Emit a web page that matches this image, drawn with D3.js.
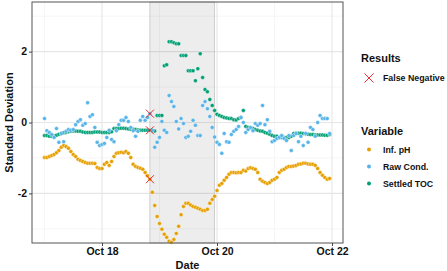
<html>
  <head>
    <meta charset="utf-8" />
    <script src="https://d3js.org/d3.v7.min.js"></script>
    <style>
      body {
        margin: 0;
        background: white;
      }
      text {
        font-family: "Liberation Sans", Arial, sans-serif;
        font-weight: bold;
        fill: #111;
      }
    </style>
  </head>

  <body>
    <svg id="chart" width="447" height="271"></svg>

    <script>
      // hourly readings, first one at Oct 17 00:00
      const startTime = new Date(2019, 9, 17, 0, 0);

      const infPH = [
        -0.99, -0.99, -0.96, -0.93, -0.9, -0.85, -0.79, -0.7, -0.65, -0.68,
        -0.73, -0.82, -0.9, -0.96, -1.04, -1.07, -1.1, -1.13, -1.15, -1.15,
        -1.15, -1.16, -1.27, -1.3, -1.3, -1.18, -1.13, -1.21, -1.1, -0.96,
        -0.87, -0.85, -0.84, -0.85, -0.82, -0.87, -0.99, -1.18, -1.24, -1.27,
        -1.29, -1.32, -1.41, -1.5, -1.6, -1.97, -2.34, -2.65, -2.85, -3.01,
        -3.15, -3.24, -3.35, -3.38, -3.3, -3.13, -2.93, -2.6, -2.37, -2.28,
        -2.28, -2.33, -2.37, -2.39, -2.42, -2.45, -2.48, -2.48, -2.45, -2.28,
        -2.17, -2.08, -1.92, -1.77, -1.72, -1.63, -1.55, -1.46, -1.41, -1.41,
        -1.42, -1.41, -1.41, -1.35, -1.37, -1.3, -1.28, -1.3, -1.32, -1.41,
        -1.6, -1.66, -1.69, -1.72, -1.69, -1.63, -1.6, -1.55, -1.41, -1.35,
        -1.32, -1.27, -1.24, -1.24, -1.23, -1.21, -1.18, -1.17, -1.15, -1.15,
        -1.17, -1.18, -1.18, -1.21, -1.3, -1.41, -1.49, -1.55, -1.6, -1.58
      ];

      const rawCond = [
        0.11, -0.23, -0.28, -0.34, -0.42, -0.17, -0.56, -0.31, -0.54, -0.25,
        -0.2, -0.22, -0.2, -0.06, 0.03, 0.08, -0.08, -0.03, 0.56, 0.17,
        0.22, -0.14, -0.56, -0.65, -0.62, -0.59, -0.42, -0.22, -0.48, -0.54,
        -0.23, -0.06, 0.06, 0.06, 0.14, 0.03, -0.14, -0.23, -0.39, -0.25,
        0.06, 0.17, 0.06, 0.14, 0.25, -0.22, -0.7, -0.56, -0.42, 0.03,
        -0.22, -0.28, 0.76, 0.59, 0.45, 0.03, -0.18, 0.11, -0.03, -0.42,
        -0.39, -0.25, 0.06, -0.08, -0.37, -0.37, 0.48, 0.59, 0.39, 0.17,
        -0.14, -0.41, -0.56, -0.62, -0.87, -0.31, -0.54, -0.56, -0.34, -0.25,
        -0.2, -0.11, 0.14, 0.0, -0.28, -0.2, -0.14, -0.23, -0.03, -0.08,
        -0.03, 0.48, -0.06, 0.08, -0.25, -0.54, -0.51, -0.45, -0.42, -0.37,
        -0.45, -0.51, -0.37, -0.79, -0.37, -0.31, -0.54, -0.39, -0.65, -0.31,
        -0.56, -0.14, -0.2, -0.39, 0.0, 0.2, 0.11, 0.11, 0.11, -0.31
      ];

      const settledTOC = [
        -0.37, -0.37, -0.39, -0.39, -0.38, -0.36, -0.33, -0.31, -0.29, -0.28,
        -0.26, -0.25, -0.24, -0.24, -0.25, -0.25, -0.27, -0.28, -0.28, -0.28,
        -0.28, -0.27, -0.27, -0.27, -0.28, -0.28, -0.28, -0.28, -0.26, -0.17,
        -0.17, -0.17, -0.16, -0.16, -0.17, -0.18, -0.19, -0.19, -0.2, -0.21,
        -0.22, -0.22, -0.22, -0.22, -0.22, -0.23, -0.24, 0.2, 0.2, 0.2,
        1.6, 1.63, 2.28, 2.28, 2.25, 2.22, 2.22, 1.89, 1.89, 1.89,
        1.46, 1.46, 1.46, 1.18, 1.52, 1.94, 1.27, 0.93, 0.87, 0.65,
        0.48, 0.34, 0.23, 0.2, 0.17, 0.14, 0.13, 0.11, 0.11, 0.08,
        0.07, 0.11, 0.14, 0.34, -0.11, -0.14, -0.15, -0.17, -0.2, -0.22,
        -0.24, -0.25, -0.28, -0.3, -0.33, -0.37, -0.39, -0.39, -0.42, -0.42,
        -0.42, -0.42, -0.42, -0.39, -0.31, -0.3, -0.3, -0.3, -0.31, -0.32,
        -0.33, -0.34, -0.34, -0.35, -0.35, -0.35, -0.35, -0.36, -0.36, -0.34
      ];

      const variables = ["Inf. pH", "Raw Cond.", "Settled TOC"];
      const colors = ["#E69F00", "#56B4E9", "#009E73"];

      // event window (grey band) and the false negatives flagged in it
      const eventStart = new Date(2019, 9, 18, 20, 0);
      const eventEnd = new Date(2019, 9, 19, 23, 0);
      const falseNegHour = 44;

      const xTicks = [new Date(2019, 9, 18), new Date(2019, 9, 20), new Date(2019, 9, 22)];
      const xMinor = [new Date(2019, 9, 17), new Date(2019, 9, 19), new Date(2019, 9, 21)];
      const yTicks = [-2, 0, 2];
      const yMinor = [-3, -1, 1, 3];

      const svg = d3.select("svg#chart");
      const margins = { top: 2, left: 32, right: 104, bottom: 28 };
      const width = +svg.attr("width");
      const height = +svg.attr("height");
      const chartWidth = width - margins.left - margins.right;
      const chartHeight = height - margins.top - margins.bottom;

      const xScale = d3
        .scaleTime()
        .domain([new Date(2019, 9, 16, 18, 47), new Date(2019, 9, 22, 4, 35)])
        .range([0, chartWidth]);

      const yScale = d3.scaleLinear().domain([-3.4, 3.4]).range([chartHeight, 0]);

      const colorScale = d3.scaleOrdinal().domain(variables).range(colors);

      const timeAt = (h) => d3.timeHour.offset(startTime, h);

      const chartArea = svg
        .append("g")
        .attr("transform", `translate(${margins.left},${margins.top})`);

      // gridlines
      const grid = chartArea.append("g").attr("class", "gridlines");
      grid
        .selectAll("line.ymin")
        .data(yMinor)
        .join("line")
        .attr("x1", 0)
        .attr("x2", chartWidth)
        .attr("y1", (d) => yScale(d))
        .attr("y2", (d) => yScale(d))
        .attr("stroke", "#f0f0f0")
        .attr("stroke-width", 0.6);
      grid
        .selectAll("line.xmin")
        .data(xMinor)
        .join("line")
        .attr("y1", 0)
        .attr("y2", chartHeight)
        .attr("x1", (d) => xScale(d))
        .attr("x2", (d) => xScale(d))
        .attr("stroke", "#f0f0f0")
        .attr("stroke-width", 0.6);
      grid
        .selectAll("line.ymaj")
        .data(yTicks)
        .join("line")
        .attr("x1", 0)
        .attr("x2", chartWidth)
        .attr("y1", (d) => yScale(d))
        .attr("y2", (d) => yScale(d))
        .attr("stroke", "#e6e6e6")
        .attr("stroke-width", 1.1);
      grid
        .selectAll("line.xmaj")
        .data(xTicks)
        .join("line")
        .attr("y1", 0)
        .attr("y2", chartHeight)
        .attr("x1", (d) => xScale(d))
        .attr("x2", (d) => xScale(d))
        .attr("stroke", "#e6e6e6")
        .attr("stroke-width", 1.1);

      // event band
      chartArea
        .append("rect")
        .attr("x", xScale(eventStart))
        .attr("y", 0)
        .attr("width", xScale(eventEnd) - xScale(eventStart))
        .attr("height", chartHeight)
        .attr("fill", "black")
        .attr("fill-opacity", 0.07)
        .attr("stroke", "#c4c4c4")
        .attr("stroke-width", 0.8);

      // points
      const series = [infPH, settledTOC, rawCond];
      const seriesNames = ["Inf. pH", "Settled TOC", "Raw Cond."];
      series.forEach((vals, i) => {
        chartArea
          .append("g")
          .selectAll("circle")
          .data(vals)
          .join("circle")
          .attr("cx", (d, h) => xScale(timeAt(h)))
          .attr("cy", (d) => yScale(d))
          .attr("r", 2)
          .attr("fill", colorScale(seriesNames[i]))
          .attr("stroke", "white")
          .attr("stroke-width", 0.4);
      });

      // false negatives
      const crossSize = 4;
      const fnVals = [infPH[falseNegHour], rawCond[falseNegHour], settledTOC[falseNegHour]];
      chartArea
        .append("g")
        .selectAll("path")
        .data(fnVals)
        .join("path")
        .attr("transform", (d) => `translate(${xScale(timeAt(falseNegHour))},${yScale(d)})`)
        .attr(
          "d",
          `M${-crossSize},${-crossSize}L${crossSize},${crossSize}M${-crossSize},${crossSize}L${crossSize},${-crossSize}`
        )
        .attr("stroke", "#e41a1c")
        .attr("stroke-width", 0.9)
        .attr("fill", "none");

      // panel border
      chartArea
        .append("rect")
        .attr("width", chartWidth)
        .attr("height", chartHeight)
        .attr("fill", "none")
        .attr("stroke", "#555")
        .attr("stroke-width", 1);

      // axes
      const yAxis = d3
        .axisLeft(yScale)
        .tickValues(yTicks)
        .tickSize(3)
        .tickPadding(2)
        .tickFormat((d) => String(d));
      const xAxis = d3
        .axisBottom(xScale)
        .tickValues(xTicks)
        .tickSize(3)
        .tickPadding(2)
        .tickFormat(d3.timeFormat("%b %d"));

      const ySide = chartArea.append("g").call(yAxis);
      const xSide = chartArea
        .append("g")
        .attr("transform", `translate(0,${chartHeight})`)
        .call(xAxis);

      [ySide, xSide].forEach((a) => {
        a.select(".domain").remove();
        a.selectAll(".tick line").attr("stroke", "#444");
        a.selectAll(".tick text")
          .style("font-size", "10.5px")
          .style("font-family", "'Liberation Sans', Arial, sans-serif")
          .style("font-weight", "bold")
          .attr("fill", "#111");
      });

      // axis titles
      svg
        .append("text")
        .attr("x", margins.left + chartWidth / 2)
        .attr("y", 269)
        .attr("text-anchor", "middle")
        .style("font-size", "11px")
        .text("Date");

      svg
        .append("text")
        .attr("transform", `translate(12.5,${margins.top + chartHeight / 2}) rotate(-90)`)
        .attr("text-anchor", "middle")
        .style("font-size", "11px")
        .text("Standard Deviation");

      // legends
      const legend = svg.append("g").attr("transform", "translate(361,0)");

      legend.append("text").attr("x", 0).attr("y", 62).style("font-size", "11px").text("Results");
      legend
        .append("path")
        .attr("transform", "translate(8,78)")
        .attr("d", "M-4.5,-4.5L4.5,4.5M-4.5,4.5L4.5,-4.5")
        .attr("stroke", "#e41a1c")
        .attr("stroke-width", 0.9);
      legend.append("text").attr("x", 22).attr("y", 80.5).style("font-size", "8.8px").text("False Negative");

      legend.append("text").attr("x", 0).attr("y", 135).style("font-size", "11px").text("Variable");

      const items = legend
        .selectAll("g.item")
        .data(variables)
        .join("g")
        .attr("class", "item")
        .attr("transform", (d, i) => `translate(0,${149.5 + i * 17})`);

      items.append("circle").attr("cx", 8).attr("cy", 0).attr("r", 2).attr("fill", (d) => colorScale(d));
      items
        .append("text")
        .attr("x", 22)
        .attr("y", 3)
        .style("font-size", "8.8px")
        .text((d) => d);
    </script>
  </body>
</html>
